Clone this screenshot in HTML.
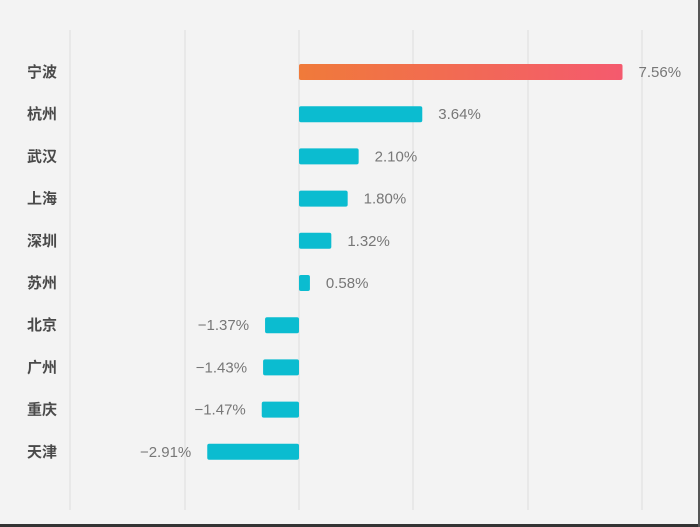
<!DOCTYPE html>
<html><head><meta charset="utf-8"><style>
body{margin:0;background:#f3f3f3;}
svg{display:block;font-family:"Liberation Sans","Noto Sans CJK SC",sans-serif;}
</style></head><body>
<svg width="700" height="527">
<defs><linearGradient id="hl" x1="0" x2="1" y1="0" y2="0"><stop offset="0" stop-color="#f07a3a"/><stop offset="1" stop-color="#f45a6e"/></linearGradient></defs>
<rect x="0" y="0" width="700" height="527" fill="#f3f3f3"/>
<g id="grid"></g><g id="bars"></g>
<rect x="0" y="524" width="700" height="3" fill="#333"/>
<rect x="698" y="0" width="2" height="527" fill="#555"/>
</svg>
<script>
const cities=["宁波","杭州","武汉","上海","深圳","苏州","北京","广州","重庆","天津"];
const values=[7.56,3.64,2.10,1.80,1.32,0.58,-1.37,-1.43,-1.47,-2.91];
const labels=["7.56%","3.64%","2.10%","1.80%","1.32%","0.58%","\u22121.37%","\u22121.43%","\u22121.47%","\u22122.91%"];
const gridTicks=[-5.36,-2.68,0,2.68,5.36,8.04];
const NS="http://www.w3.org/2000/svg";
const x0=299;
function xs(v){return x0+Math.sign(v)*22.4*Math.pow(Math.abs(v),1.32);}
function ys(i){return 72+i*42.2;}
const gx=[70,185,299,413,528,642];
const g=document.getElementById('grid'),b=document.getElementById('bars');
gridTicks.forEach((t,i)=>{const l=document.createElementNS(NS,'line');
l.setAttribute('x1',gx[i]);l.setAttribute('x2',gx[i]);l.setAttribute('y1',30);l.setAttribute('y2',510);
l.setAttribute('stroke','#dcdcdc');l.setAttribute('stroke-width','1');


g.appendChild(l);});
values.forEach((v,i)=>{const y=ys(i);
const x=Math.min(xs(0),xs(v)),w=Math.abs(xs(v)-xs(0));
const r=document.createElementNS(NS,'rect');
r.setAttribute('x',x);r.setAttribute('y',y-8);r.setAttribute('width',w);r.setAttribute('height',16);r.setAttribute('rx',2);
r.setAttribute('fill',i===0?'url(#hl)':'#0bbcd0');


b.appendChild(r);
const c=document.createElementNS(NS,'text');
c.setAttribute('x',57);c.setAttribute('y',y+5);c.setAttribute('text-anchor','end');c.setAttribute('font-size','15');c.setAttribute('font-weight','600');c.setAttribute('fill','#4a4a4a');
c.textContent=cities[i];


b.appendChild(c);
const t=document.createElementNS(NS,'text');
t.setAttribute('x',v>=0?xs(v)+16:xs(v)-16);t.setAttribute('y',y+5);t.setAttribute('text-anchor',v>=0?'start':'end');t.setAttribute('font-size','15');t.setAttribute('fill','#777');
t.textContent=labels[i];


b.appendChild(t);});
</script>
</body></html>
